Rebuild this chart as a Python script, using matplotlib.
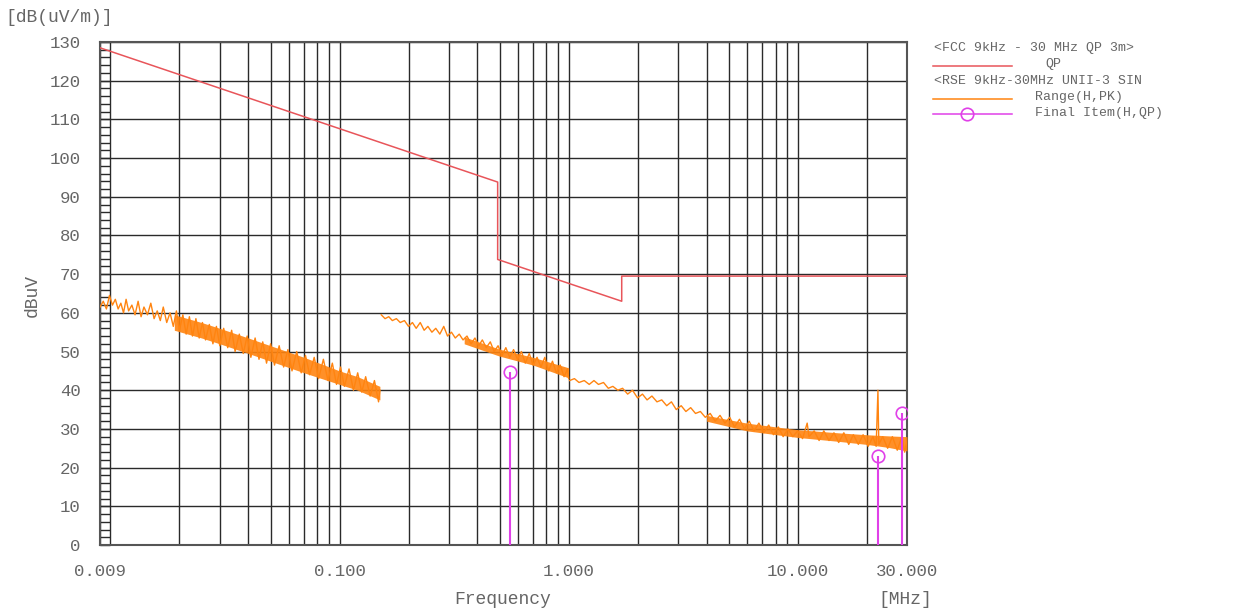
# -*- coding: utf-8 -*-
"""
RSE 9kHz - 30MHz radiated emission plot (FCC QP 3m limit)
"""

import matplotlib
matplotlib.use('Agg')
import matplotlib.pyplot as plt
from matplotlib.lines import Line2D
from matplotlib.ticker import FixedLocator, MultipleLocator, NullFormatter

plt.rcParams['font.family'] = ['Liberation Mono', 'DejaVu Sans Mono']

# FCC 15.209 QP limit at 3 m, breakpoints (MHz, dBuV/m)
lim_f = [0.009, 0.49, 0.49, 1.705, 1.705, 30.0]
lim_db = [128.5, 93.8, 73.8, 63.0, 69.5, 69.5]

# peak scan, 9 kHz - 150 kHz
seg1_f = [0.0090, 0.0093, 0.0096, 0.0099, 0.0102, 0.0105, 0.0108, 0.0111, 0.0114, 0.0117,
          0.0120, 0.0124, 0.0128, 0.0132, 0.0136, 0.0140, 0.0145, 0.0150, 0.0155, 0.0160,
          0.0165, 0.0170, 0.0176, 0.0182, 0.0188, 0.0194, 0.0200, 0.0207, 0.0214, 0.0221,
          0.0228, 0.0236, 0.0244, 0.0252, 0.0260, 0.0270, 0.0280, 0.0290, 0.0300, 0.0312,
          0.0325, 0.0338, 0.0350, 0.0365, 0.0380, 0.0395, 0.0410, 0.0428, 0.0445, 0.0462,
          0.0480, 0.0500, 0.0520, 0.0545, 0.0570, 0.0595, 0.0620, 0.0650, 0.0680, 0.0710,
          0.0740, 0.0775, 0.0810, 0.0850, 0.0890, 0.0930, 0.0970, 0.1010, 0.1050, 0.1100,
          0.1150, 0.1200, 0.1250, 0.1300, 0.1360, 0.1420, 0.1480, 0.1500]
seg1_db = [61.5, 63.0, 61.0, 64.5, 62.0, 63.5, 61.0, 62.5, 60.0, 63.5,
           60.5, 62.0, 59.5, 63.0, 59.0, 61.5, 59.5, 62.5, 58.5, 60.5,
           58.0, 61.5, 57.5, 60.0, 56.5, 60.5, 55.5, 59.5, 54.5, 59.0,
           54.0, 58.5, 53.5, 57.5, 53.0, 57.0, 52.0, 56.5, 51.5, 56.0,
           51.0, 55.5, 50.0, 54.5, 49.5, 54.0, 48.5, 53.5, 48.0, 52.5,
           47.0, 52.0, 46.5, 51.5, 46.0, 50.5, 45.0, 50.0, 44.5, 49.0,
           44.0, 48.5, 43.0, 48.0, 42.5, 47.0, 41.5, 46.0, 41.0, 45.5,
           40.0, 44.5, 39.5, 43.5, 38.5, 42.5, 37.0, 40.0]

# peak scan, 150 kHz - 1 MHz
seg2_f = [0.152, 0.158, 0.164, 0.170, 0.177, 0.184, 0.192, 0.200, 0.208, 0.216,
          0.225, 0.234, 0.243, 0.253, 0.263, 0.274, 0.285, 0.296, 0.308, 0.320,
          0.333, 0.346, 0.360, 0.375, 0.390, 0.405, 0.420, 0.437, 0.455, 0.473,
          0.492, 0.512, 0.532, 0.553, 0.575, 0.598, 0.622, 0.647, 0.673, 0.700,
          0.728, 0.757, 0.787, 0.818, 0.850, 0.884, 0.919, 0.955, 0.990, 1.000]
seg2_db = [59.5, 58.5, 59.0, 58.0, 58.5, 57.5, 58.0, 56.5, 57.5, 56.0,
           57.5, 55.5, 56.5, 55.0, 56.0, 54.5, 56.5, 54.0, 55.0, 53.5,
           54.5, 53.0, 54.0, 52.0, 53.5, 51.5, 53.0, 51.0, 52.5, 50.0,
           51.5, 49.0, 51.0, 48.5, 50.5, 48.0, 50.0, 47.0, 49.5, 46.5,
           48.5, 46.0, 48.5, 45.0, 47.5, 44.5, 46.5, 43.5, 45.5, 43.0]

# peak scan, 1 MHz - 30 MHz
seg3_f = [1.01, 1.06, 1.11, 1.17, 1.23, 1.29, 1.35, 1.42, 1.49, 1.56,
          1.64, 1.72, 1.81, 1.90, 2.00, 2.10, 2.20, 2.31, 2.43, 2.55,
          2.68, 2.81, 2.95, 3.10, 3.25, 3.41, 3.58, 3.76, 3.95, 4.15,
          4.36, 4.58, 4.81, 5.05, 5.30, 5.57, 5.85, 6.14, 6.45, 6.77,
          7.11, 7.47, 7.84, 8.23, 8.64, 9.07, 9.52, 10.0, 10.5, 11.0,
          11.2, 11.8, 12.4, 13.0, 13.7, 14.4, 15.1, 15.9, 16.7, 17.5,
          18.4, 19.3, 20.3, 21.3, 22.0, 22.4, 22.6, 23.5, 24.7, 25.9,
          27.2, 28.5, 29.3, 30.0]
seg3_db = [42.5, 43.0, 42.0, 42.5, 41.5, 42.5, 41.5, 42.0, 40.5, 41.0,
           40.0, 40.5, 39.0, 40.0, 38.0, 39.0, 37.5, 38.5, 37.0, 37.5,
           36.0, 37.0, 35.0, 36.0, 34.5, 35.5, 34.0, 34.5, 33.0, 34.0,
           32.0, 33.5, 31.5, 33.0, 30.5, 32.5, 30.0, 32.0, 29.5, 31.5,
           29.0, 31.0, 28.5, 30.5, 28.0, 30.0, 28.0, 29.5, 27.5, 31.5,
           28.0, 29.5, 27.0, 29.5, 27.0, 29.0, 26.5, 29.0, 26.0, 28.5,
           26.0, 28.5, 25.5, 28.0, 25.5, 40.0, 26.0, 28.0, 25.0, 28.0,
           24.5, 28.0, 24.0, 27.0]

# dense parts of the scan (lower / upper edge of the trace band)
band1_f = [0.019, 0.025, 0.030, 0.040, 0.050, 0.070, 0.100, 0.120, 0.150]
band1_lo = [55.5, 53.5, 52.0, 49.5, 47.5, 44.5, 41.5, 40.0, 37.5]
band1_hi = [59.5, 57.5, 56.0, 53.5, 51.5, 48.5, 45.0, 43.5, 41.0]
band2_f = [0.35, 0.50, 0.70, 1.00]
band2_lo = [52.0, 48.8, 46.5, 43.2]
band2_hi = [53.8, 50.6, 48.5, 45.8]
band3_f = [4.0, 6.0, 10.0, 15.0, 20.0, 25.0, 30.0]
band3_lo = [32.0, 29.5, 27.8, 26.8, 26.0, 25.2, 24.3]
band3_hi = [33.5, 31.5, 29.8, 29.0, 28.5, 28.2, 28.0]

# final QP measurements
fin_f = [0.555, 22.4, 28.6]
fin_db = [44.6, 23.0, 34.1]

xtick_vals = [0.009, 0.1, 1.0, 10.0, 30.0]
xtick_labels = ['0.009', '0.100', '1.000', '10.000', '30.000']

txt_col = '#666666'
grid_col = '#2a2a2a'
red = '#e8555a'
orange = '#ff8410'
magenta = '#e040e8'

fig = plt.figure(figsize=(12.33, 6.11), dpi=100)
ax = fig.add_axes([100/1233, 1-545/611, 807/1233, 503/611])

ax.set_xscale('log')
ax.set_xlim(0.009, 30)
ax.set_ylim(0, 130)

# grid
ax.xaxis.set_major_locator(FixedLocator(xtick_vals))
ax.xaxis.set_major_formatter(plt.FixedFormatter(xtick_labels))
minor_x = [k*10.0**e for e in (-2, -1, 0) for k in range(1, 10)] + [20.0]
ax.xaxis.set_minor_locator(FixedLocator(minor_x))
ax.xaxis.set_minor_formatter(NullFormatter())
ax.yaxis.set_major_locator(MultipleLocator(10))
ax.yaxis.set_minor_locator(MultipleLocator(2))
ax.grid(True, which='major', color=grid_col, lw=1.0)
ax.grid(True, which='minor', axis='x', color=grid_col, lw=1.0)
ax.set_axisbelow(True)

ax.tick_params(axis='x', which='both', length=0, pad=14, labelsize=12.5, labelcolor=txt_col)
ax.tick_params(axis='y', which='both', direction='in', length=7, width=1.0, color=grid_col,
               pad=14, labelsize=12.5, labelcolor=txt_col)
for s in ax.spines.values():
    s.set_color('#555555')
    s.set_linewidth(1.5)

# limit
ax.plot(lim_f, lim_db, color=red, lw=1.1, zorder=3)

# scan trace
for bf, blo, bhi in ((band1_f, band1_lo, band1_hi), (band2_f, band2_lo, band2_hi),
                     (band3_f, band3_lo, band3_hi)):
    ax.fill_between(bf, blo, bhi, color=orange, lw=0, alpha=0.9, zorder=4)
for sf, sd in ((seg1_f, seg1_db), (seg2_f, seg2_db), (seg3_f, seg3_db)):
    ax.plot(sf, sd, color=orange, lw=1.0, zorder=5)

# final items
ax.vlines(fin_f, 0, fin_db, color=magenta, lw=1.5, zorder=6)
ax.plot(fin_f, fin_db, 'o', ms=9, mfc='none', mec=magenta, mew=1.2, zorder=7)

# axis titles
fig.text(5/1233, 1-18/611, '[dB(uV/m)]', color=txt_col, fontsize=13, va='center', ha='left')
fig.text(32/1233, 1-295/611, 'dBuV', color=txt_col, fontsize=13, rotation=90, va='center', ha='center')
fig.text(503/1233, 1-600/611, 'Frequency', color=txt_col, fontsize=13, va='center', ha='center')
fig.text(878/1233, 1-600/611, '[MHz]', color=txt_col, fontsize=13, va='center', ha='left')

# legend
lx0, lx1 = 933/1233, 1012/1233
fig.text(934/1233, 1-48/611, '<FCC 9kHz - 30 MHz QP 3m>', color=txt_col, fontsize=9.5, va='center')
fig.add_artist(Line2D([lx0, lx1], [1-66/611]*2, color=red, lw=1.1))
fig.text(1045/1233, 1-64/611, 'QP', color=txt_col, fontsize=9.5, va='center')
fig.text(934/1233, 1-81/611, '<RSE 9kHz-30MHz UNII-3 SIN', color=txt_col, fontsize=9.5, va='center')
fig.add_artist(Line2D([lx0, lx1], [1-99/611]*2, color=orange, lw=1.1))
fig.text(1035/1233, 1-97/611, 'Range(H,PK)', color=txt_col, fontsize=9.5, va='center')
fig.add_artist(Line2D([lx0, lx1], [1-114/611]*2, color=magenta, lw=1.1))
fig.add_artist(Line2D([967/1233], [1-114/611], marker='o', ms=9, mfc='none', mec=magenta, mew=1.2))
fig.text(1035/1233, 1-113/611, 'Final Item(H,QP)', color=txt_col, fontsize=9.5, va='center')

fig.savefig('out.png', dpi=100)
